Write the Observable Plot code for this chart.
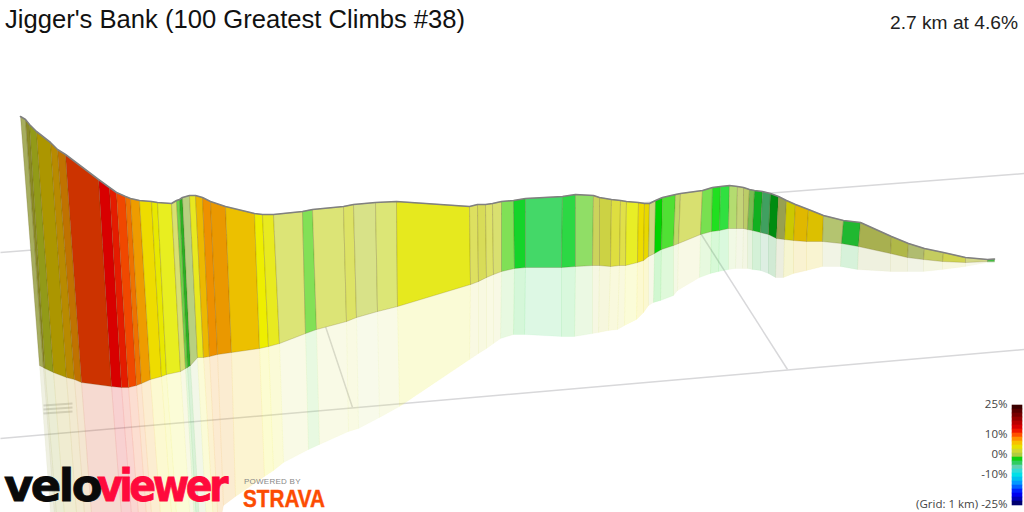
<!DOCTYPE html>
<html><head><meta charset="utf-8">
<script src="https://cdn.jsdelivr.net/npm/d3@7"></script>
<script src="https://cdn.jsdelivr.net/npm/@observablehq/plot@0.6"></script>
<style>
html,body{margin:0;padding:0;background:#fff;overflow:hidden}
#root{position:relative;width:1024px;height:512px;overflow:hidden}
#root>svg{position:absolute;left:0;top:0}
.abs{position:absolute;white-space:nowrap;line-height:1}
#title{left:5px;top:5px;font:25.6px "Liberation Sans",Arial,sans-serif;color:#111}
#sub{right:6px;top:12px;font:19.2px "Liberation Sans",Arial,sans-serif;color:#222}
.logo{font:bold 45px/45px "DejaVu Sans",sans-serif;transform-origin:0 0}
#velo{left:4px;top:463px;color:#0a0a0a;letter-spacing:-2.5px;-webkit-text-stroke:.8px #0a0a0a}
#viewer{left:97px;top:463px;color:#ff0a3c;letter-spacing:-4px;-webkit-text-stroke:.8px #ff0a3c;transform:scaleX(.88)}
#powered{left:244px;top:477px;font:8px "Liberation Sans",sans-serif;letter-spacing:.25px;color:#888}
#strava{left:243px;top:486px;font:bold 23px "Liberation Sans",sans-serif;color:#fc4c02;transform-origin:0 0;transform:scaleX(.9);-webkit-text-stroke:.4px #fc4c02}
</style></head><body><div id="root"></div>
<script>
// Projected profile stations
const topX  = [20,25,29,36,50,57,65,98,109,116,125,130,139,151,157,171,176,179,182,189,195,202,210,225,254,262,273,302,312,343,353,375,396,469,477,485,492,501,513,525,562,575,593,599,611,620,626,638,644,649,655,662,675,680,702,712,720,729,737,743,749,754,762,770,778,786,795,808,823,843,860,891,908,924,943,965,987,994];
const topY  = [116,119,124,131,142,149,154,179,187,192,196,198,200,201,202,203,200,199,197,195,195,197,201,206,213,214,214,211,209,206,204,202,201,206,204,204,203,201,200,198,196,194,195,197,199,200,201,202,203,203,200,197,194,193,190,187,186,185,186,187,189,190,191,193,196,200,204,209,215,220,222,236,243,248,252,257,259,258.5];
const baseX = [39,43,44.5,53,66,74,81,111,121,128,136,141,150,161,166,180,185,187,190,197,203,209,217,231,259,268,279,305,316,346,356,377,397,470,478,486,493,501,514,525,561,575,592,599,610,619,625,637,643,648,654,661,673,678,700,711,719,728,736,743,747,752,760,768,776,784,793,806,822,841,858,890,907,923,942,965,987,994];
const baseY = [365,367,368,372,377,379,382,386,387,387,385,383,379,376,374,371,368,367,365,357,357,356,354,352,348,346,343,333,329,321,317,311,306,284,281,277,274,271,268,267,267,266,265,265,266,265,265,262,260,256,253,249,245,243,234,231,230,228,228,228,229,230,232,234,238,239,240,241,241,243,246,253,257,259,261,262,261,261];
const endX  = [52,56,58,66,78,86,93,123,133,140,148,153,162,173,178,191,195,197,200,207,214,218,223,235,264,273,283,308,319,348,358,379,399,469,478,486,493,500,513,524,561,574,592,598,608,617,624,636,643,648,653,660,673,677,699,710,718,728,735,742,747,752,760,768,775,783,793,806,822,840,857,890,907,923,942,965,987,994];
const endY  = [540,540,540,540,540,540,540,540,540,540,540,540,540,540,540,540,540,540,540,540,540,530,505,496,476,470,462,449,444,431,428,417,406,359,353,348,343,338,334,334,336,336,333,332,330,329,325,319,312,305,302,300,295,290,277,273,271,269,268,268,268,269,270,273,277,277,273,270,266,266,269,271,271,271,269,266,262,262];
// Colour of the band that starts at each station
const bandColors = ["#a6ad5e","#8a8a24","#929a18","#ac9600","#b88a00","#c07200","#cc3300","#d80000","#e41c00","#f04800","#ee7200","#ee9c00","#eedc00","#e8e800","#e8ee20","#d8e070","#6cd448","#2cb024","#b8d080","#e8e820","#ecb800","#ee9000","#ea9800","#ecc000","#eeee00","#e8ea20","#dce476","#82e056","#dce476","#dde366","#d8e288","#dce676","#e6e91e","#dde060","#d8dc58","#dde268","#d9e070","#80e056","#14d42a","#44d868","#2cd844","#90de66","#ccd35c","#ccd244","#dede40","#e0e048","#e8ee26","#eedc00","#e8d800","#ccd680","#00d400","#50e034","#c0d868","#d8e070","#78e050","#20e020","#30e040","#b4dc70","#c4d478","#bccc68","#78bc50","#10b020","#40a060","#008c10","#98a050","#ccc800","#e0b800","#dcc000","#b4c470","#20b830","#a8b050","#b0b848","#b0bc70","#c4cc60","#d0d450","#d4d888","#40c040"];
// Ground grid lines
const gridX1 = [0,0,697,322];
const gridY1 = [252,438,228,317];
const gridX2 = [1024,1024,787,352];
const gridY2 = [173,349,369,407];
const markX1 = [43,43,43];
const markY1 = [405,409,413];
const markX2 = [72,72,72];
const markY2 = [403,407,411];
// Colour key
const legendGrades = [25,23,21,19,17,15,13,11,9,7,5,3,1,-1,-3,-5,-7,-9,-11,-13,-15,-17,-19,-21,-23];
const legendColors = ["#3c0000","#5a0000","#780000","#980000","#b80000","#d80000","#f01800","#ff5000","#ff9000","#f8c000","#e8e000","#d0d830","#b0cc40","#10d010","#30cc60","#60d0b0","#30dcd8","#00e0e8","#00c0f0","#0098ff","#0060ff","#0020ff","#0000f0","#0000b8","#000070"];
const legendTicks = [25,10,0,-10,-25];
const legendLabels = ["25%","10%","0%","-10%","(Grid: 1 km) -25%"];

const idx = d3.range(bandColors.length);
const poly = (xa,ya,xb,yb) => idx.flatMap(i => [
  {b:i,x:xa[i],y:ya[i]},{b:i,x:xa[i+1],y:ya[i+1]},{b:i,x:xb[i+1],y:yb[i+1]},{b:i,x:xb[i],y:yb[i]},{b:i,x:xa[i],y:ya[i]}
]);
const wall = poly(topX,topY,baseX,baseY);
const shadow = poly(baseX,baseY,endX,endY);
const bandFill = d => bandColors[d.b];
const grid = gridX1.map((_,i)=>({x1:gridX1[i],y1:gridY1[i],x2:gridX2[i],y2:gridY2[i]}));
const marks = markX1.map((_,i)=>({x1:markX1[i],y1:markY1[i],x2:markX2[i],y2:markY2[i]}));
const ridge = topX.map((x,i)=>({x,y:topY[i]}));

const chart = Plot.plot({
  width:1024,height:512,margin:0,
  x:{domain:[0,1024],range:[0,1024],axis:null},
  y:{domain:[512,0],range:[512,0],axis:null},
  color:{type:"identity"},
  marks:[
    Plot.link(grid,{x1:"x1",y1:"y1",x2:"x2",y2:"y2",stroke:"#d8d8da",strokeWidth:1.5}),
    Plot.link(marks,{x1:"x1",y1:"y1",x2:"x2",y2:"y2",stroke:"#dcdcdc",strokeWidth:2}),
    Plot.line(shadow,{x:"x",y:"y",z:"b",fill:bandFill,fillOpacity:0.18,stroke:bandFill,strokeOpacity:0.05,strokeWidth:1,curve:"linear",clip:true}),
    Plot.line(wall,{x:"x",y:"y",z:"b",fill:bandFill,stroke:"#5a4a10",strokeOpacity:0.2,strokeWidth:1,curve:"linear"}),
    Plot.line(ridge,{x:"x",y:"y",stroke:"#808080",strokeWidth:1.6,curve:"linear"})
  ]
});
const root = document.getElementById("root");
root.append(chart);

const legendRows = legendGrades.map((g,i)=>({y1:g,y2:g-2,c:legendColors[i]}));
const legendText = legendTicks.map((t,i)=>({t,l:legendLabels[i]}));
const legend = Plot.plot({
  width:124,height:122,margin:0,
  x:{domain:[0,124],range:[0,124],axis:null},
  y:{domain:[-25,25],range:[115,15],axis:null},
  color:{type:"identity"},
  marks:[
    Plot.rect(legendRows,{x1:()=>112,x2:()=>122,y1:"y1",y2:"y2",fill:"c",inset:-0.3}),
    Plot.text(legendText,{x:()=>107,y:"t",text:"l",textAnchor:"end",dy:-1,fontSize:11.5,fontFamily:"Open Sans",fill:"#444"})
  ]
});
legend.style.left="900px";legend.style.top="390px";
root.append(legend);

for (const [id,t] of [["title","Jigger's Bank (100 Greatest Climbs #38)"],["sub","2.7 km at 4.6%"],["velo","velo"],["viewer","viewer"],["powered","POWERED BY"],["strava","STRAVA"]]){
  const d=document.createElement("div");d.id=id;d.className="abs"+((id==="velo"||id==="viewer")?" logo":"");d.textContent=t;root.append(d);
}
</script></body></html>
